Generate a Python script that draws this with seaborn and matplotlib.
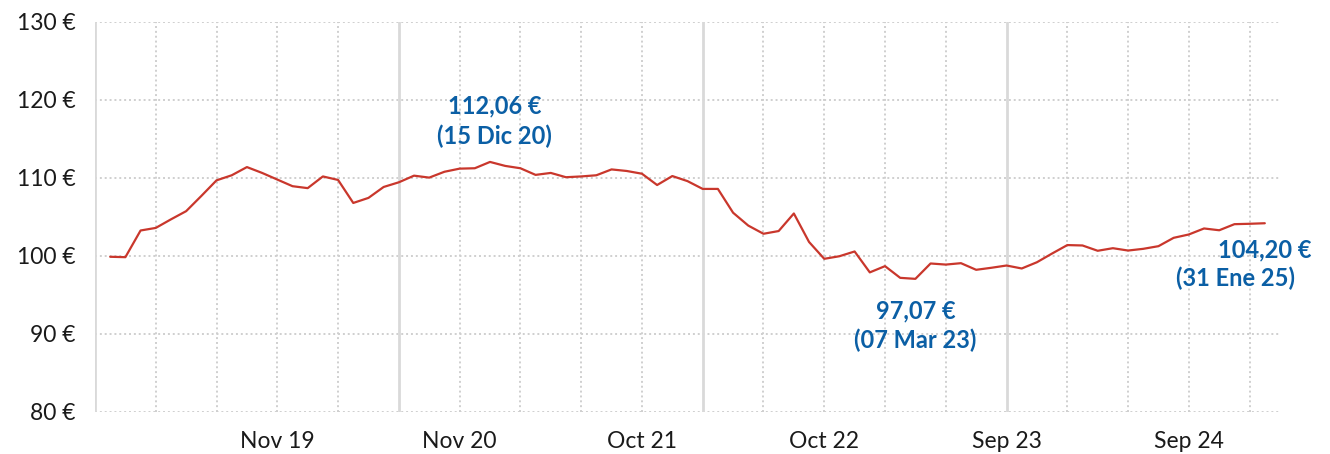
import numpy as np
import pandas as pd
import matplotlib
matplotlib.use("Agg")
import matplotlib.pyplot as plt
import seaborn as sns

# one value every 4 weeks
precio = [99.9, 99.85, 103.27, 103.6, 104.7, 105.75, 107.7, 109.7, 110.35, 111.4,
          110.65, 109.8, 108.95, 108.7, 110.2, 109.75, 106.8, 107.45, 108.85, 109.45,
          110.3, 110.05, 110.8, 111.2, 111.25, 112.06, 111.55, 111.25, 110.4, 110.65,
          110.1, 110.2, 110.35, 111.1, 110.9, 110.55, 109.1, 110.25, 109.6, 108.6,
          108.6, 105.55, 103.9, 102.85, 103.2, 105.45, 101.8, 99.64, 99.97, 100.58,
          97.9, 98.7, 97.2, 97.07, 99.04, 98.9, 99.08, 98.23, 98.49, 98.78,
          98.4, 99.2, 100.32, 101.4, 101.35, 100.67, 101.0, 100.7, 100.92, 101.26,
          102.33, 102.76, 103.53, 103.3, 104.08, 104.13, 104.2]

x_labels = ["Nov 19", "Nov 20", "Oct 21", "Oct 22", "Sep 23", "Sep 24"]
x_label_pos = [11, 23, 35, 47, 59, 71]

y_ticks = [80, 90, 100, 110, 120, 130]
y_tick_labels = ["80 €", "90 €", "100 €", "110 €", "120 €", "130 €"]

notas = [
    (25, "112,06 €", "(15 Dic 20)"),
    (53, "97,07 €", "(07 Mar 23)"),
    (76, "104,20 €", "(31 Ene 25)"),
]

sns.set_style("white")
plt.rcParams['font.family'] = ['Lato', 'DejaVu Sans']

df = pd.DataFrame({"i": np.arange(len(precio)), "precio": precio})

fig = plt.figure(figsize=(13.3, 4.54), dpi=100)
ax = fig.add_axes([95 / 1330, 1 - 412 / 454, (1280 - 95) / 1330, (412 - 22) / 454])

# grid
grid_col = "#cfcfcf"
for yv in y_ticks:
    ax.axhline(yv, color=grid_col, lw=1.4, ls=(0, (1, 1.5)), zorder=0)
for xv in range(-1, len(precio), 4):
    if (xv + 1) % 20 == 0:
        ax.axvline(xv, color="#d9d9d9", lw=2, zorder=0)
    else:
        ax.axvline(xv, color=grid_col, lw=1.4, ls=(0, (1, 1.5)), zorder=0)

sns.lineplot(data=df, x="i", y="precio", ax=ax, color="#c9372c", lw=1.6, zorder=3)

ax.set_xlim(-1, 77)
ax.set_ylim(80, 130)
ax.set_yticks(y_ticks)
ax.set_yticklabels(y_tick_labels)
ax.set_xticks(x_label_pos)
ax.set_xticklabels(x_labels)
ax.tick_params(axis="both", length=0, labelsize=16.5, colors="#1a1a1a")
ax.tick_params(axis="y", pad=14)
ax.tick_params(axis="x", pad=14)
ax.set_xlabel("")
ax.set_ylabel("")
for s in ax.spines.values():
    s.set_visible(False)

azul = "#0b5fa5"
fs = 17
# max
i, v1, v2 = notas[0]
ax.text(i + 0.3, 119.2, v1, color=azul, fontsize=fs, fontweight="bold", ha="center", va="center")
ax.text(i + 0.3, 115.4, v2, color=azul, fontsize=fs, fontweight="bold", ha="center", va="center")
# min
i, v1, v2 = notas[1]
ax.text(i, 93.0, v1, color=azul, fontsize=fs, fontweight="bold", ha="center", va="center")
ax.text(i, 89.2, v2, color=azul, fontsize=fs, fontweight="bold", ha="center", va="center")
# last
i, v1, v2 = notas[2]
ax.text(i, 100.8, v1, color=azul, fontsize=fs, fontweight="bold", ha="center", va="center", clip_on=False)
ax.text(i - 1.9, 97.2, v2, color=azul, fontsize=fs, fontweight="bold", ha="center", va="center", clip_on=False)

fig.savefig("out.png", dpi=100)
